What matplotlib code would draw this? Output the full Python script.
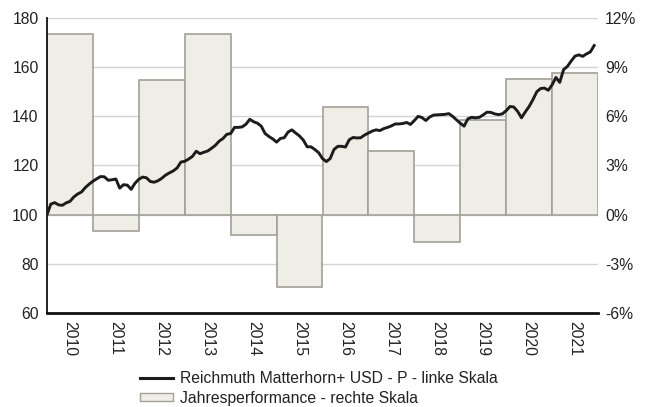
import matplotlib
matplotlib.use("Agg")
import matplotlib.pyplot as plt
from matplotlib.lines import Line2D
from matplotlib.patches import Patch
import numpy as np
import pandas as pd

plt.rcParams['font.family'] = ['Liberation Sans', 'DejaVu Sans']

# Fund price index (monthly, rebased to 100 at start of 2010)
start_month = "2010-01-01"
index_values = [
    100.0, 104.3, 104.9, 104.0, 103.8, 104.8, 105.4, 107.2, 108.4, 109.2, 111.0, 112.4,
    113.6, 114.6, 115.5, 115.4, 114.0, 114.2, 114.5, 110.8, 112.2, 112.0, 110.3, 112.8,
    114.4, 115.3, 115.0, 113.5, 113.2, 113.8, 114.8, 116.1, 117.0, 117.8, 119.0, 121.4,
    121.7, 122.6, 123.7, 125.8, 124.8, 125.4, 125.9, 127.0, 128.2, 129.9, 131.0, 132.7,
    133.0, 135.5, 135.5, 135.7, 136.8, 138.8, 137.8, 137.2, 136.0, 133.0, 131.8, 130.8,
    129.5, 131.0, 131.3, 133.6, 134.5, 133.2, 132.0, 130.3, 127.6, 127.6, 126.5, 125.2,
    122.8, 121.6, 122.8, 126.5, 127.8, 127.8, 127.5, 130.5, 131.4, 131.2, 131.3, 132.4,
    133.2, 134.0, 134.5, 134.2, 135.0, 135.5, 136.1, 136.9, 136.9, 137.1, 137.5, 136.7,
    138.3, 140.0, 139.5, 138.3, 139.7, 140.5, 140.6, 140.7, 140.8, 141.1, 140.0, 138.6,
    137.2, 136.0, 139.0, 139.6, 139.4, 139.6, 140.6, 141.7, 141.6, 141.0, 140.7, 141.0,
    142.3, 144.0, 143.8, 142.0, 139.4, 141.8, 144.0, 146.8, 150.0, 151.3, 151.5, 150.6,
    152.8, 155.8, 153.8, 159.0, 160.3, 162.5, 164.5, 165.0, 164.4, 165.4, 166.2, 168.8,
]

# Calendar-year performance in percent
years = [2010, 2011, 2012, 2013, 2014, 2015, 2016, 2017, 2018, 2019, 2020, 2021]
annual_perf = [11.0, -1.0, 8.2, 11.05, -1.25, -4.4, 6.55, 3.9, -1.65, 5.8, 8.25, 8.65]

left_ticks = [60, 80, 100, 120, 140, 160, 180]
right_ticks = [-6, -3, 0, 3, 6, 9, 12]

line_label = "Reichmuth Matterhorn+ USD - P - linke Skala"
bar_label = "Jahresperformance - rechte Skala"

dates = pd.date_range(start_month, periods=len(index_values), freq="MS")
x_line = dates.year + (dates.month - 1) / 12.0

bar_face = "#efeee6"
bar_edge = "#a3a09a"
text_col = "#222222"
fs = 11.3

fig = plt.figure(figsize=(6.48, 4.07), dpi=100)
ax = fig.add_axes([47 / 648, 1 - 313 / 407, (598 - 47) / 648, (313 - 18) / 407])
ax2 = ax.twinx()

# bars and grid on the right (percent) axis, drawn underneath the line
ax2.set_ylim(right_ticks[0], right_ticks[-1])
ax2.set_yticks(right_ticks)
ax2.set_yticklabels([f"{t}%" for t in right_ticks])
ax2.grid(axis="y", color="#d4d4d4", linewidth=1.0, zorder=0)
ax2.set_axisbelow(True)
ax2.bar(np.array(years) + 0.5, annual_perf, width=1.0, color=bar_face,
        edgecolor=bar_edge, linewidth=1.2, zorder=2)

ax.set_zorder(ax2.get_zorder() + 1)
ax.patch.set_visible(False)

ax.plot(x_line, index_values, color="#1c1c1c", linewidth=2.1, zorder=5,
        solid_joinstyle="round")
ax.set_ylim(left_ticks[0], left_ticks[-1])
ax.set_yticks(left_ticks)
ax.set_xlim(years[0], years[-1] + 1)
ax.set_xticks(np.array(years) + 0.5)
ax.set_xticklabels([str(y) for y in years], rotation=270, va="top", ha="center")

for a in (ax, ax2):
    for s in ("top", "right"):
        a.spines[s].set_visible(False)
    a.tick_params(length=0, labelsize=fs, colors=text_col)
ax2.spines["left"].set_visible(False)
ax2.spines["bottom"].set_visible(False)
ax.spines["left"].set_color("#111111")
ax.spines["left"].set_linewidth(1.3)
ax.spines["bottom"].set_color("#111111")
ax.spines["bottom"].set_linewidth(2.0)
ax.tick_params(axis="y", pad=6)
ax.tick_params(axis="x", pad=6)
ax2.tick_params(axis="y", pad=5)

handles = [
    Line2D([0], [0], color="#1c1c1c", linewidth=2.2),
    Patch(facecolor=bar_face, edgecolor=bar_edge, linewidth=1.0),
]
fig.legend(handles, [line_label, bar_label], loc="upper left",
           bbox_to_anchor=(140 / 648, 1 - 371 / 407), frameon=False,
           fontsize=fs, handlelength=2.1, handleheight=0.33,
           handletextpad=0.45, labelspacing=0.3, borderpad=0.0,
           borderaxespad=0.0, labelcolor=text_col)

fig.savefig("out.png", dpi=100)
